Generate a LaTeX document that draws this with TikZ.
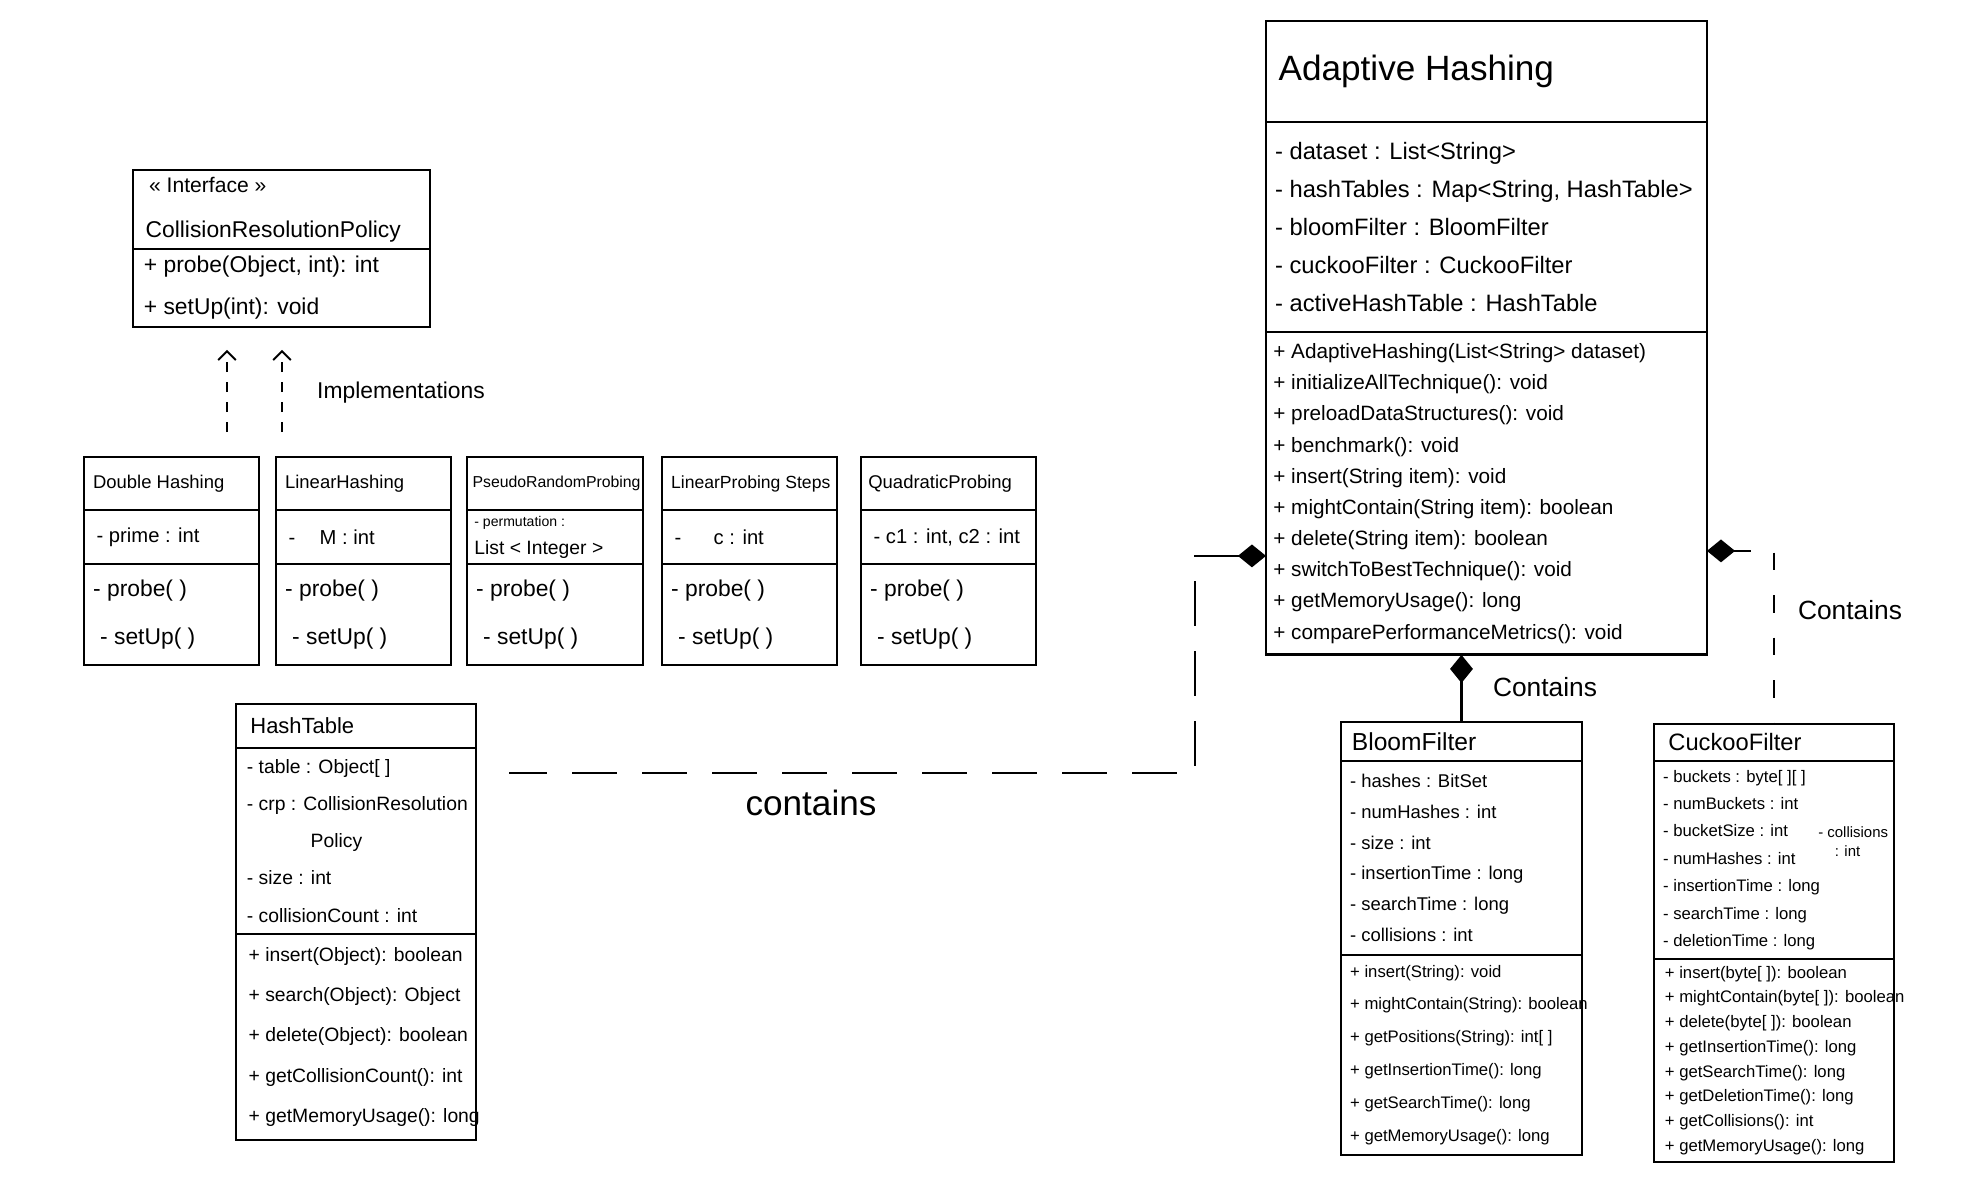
\documentclass[tikz,border=0pt]{standalone}
\usepackage{fontspec}
\setmainfont{Liberation Sans}
\usetikzlibrary{positioning}
\usetikzlibrary{arrows.meta}

\tikzset{
  compart/.style={draw, line width=1.6pt, outer sep=0pt, inner sep=0pt},
  rows/.style={align=left, inner sep=0pt},
  lbl/.style={inner sep=0pt},
  impl/.style={line width=1.1pt, dash pattern=on 0.2cm off 0.2cm, -{Straight Barb[length=5pt,width=10pt]}},
  compose/.style={line width=1.3pt, {Diamond[length=16pt,width=13pt]}-},
}

\begin{document}
\begin{tikzpicture}[x=0.02cm,y=-0.02cm]
\useasboundingbox (0,0) rectangle (1965,1191);

% interface
\node [compart, anchor=north west, minimum width=5.94cm, minimum height=1.58cm] (ifc) at (133,170) {};
\node [compart, below=0pt of ifc, minimum width=5.94cm, minimum height=1.56cm] (ifcops) {};
\node [rows, right=7pt of ifc.west, font=\fontsize{13}{25.5}\selectfont] (ifcname) {{\fontsize{12}{13}\selectfont\hspace*{2pt}« Interface »}\\CollisionResolutionPolicy};
\node [rows, right=6pt of ifcops.west, font=\fontsize{13}{23.8}\selectfont] (ifccalls) {+ probe(Object, int): int\\+ setUp(int): void};

% the five probing classes
\node [compart, anchor=north west, minimum width=3.5cm, minimum height=1.06cm] (dh) at (84,457) {};
\node [compart, below=0pt of dh, minimum width=3.5cm, minimum height=1.08cm] (dhattr) {};
\node [compart, below=0pt of dhattr, minimum width=3.5cm, minimum height=2.02cm] (dhops) {};
\node [rows, right=5pt of dh.west, font=\fontsize{10.5}{12}\selectfont] (dhname) {Double Hashing};
\node [rows, right=7pt of dhattr.west, font=\fontsize{11.5}{13}\selectfont] (dhfields) {- prime : int};
\node [rows, right=5pt of dhops.west, font=\fontsize{13}{27.2}\selectfont] (dhcalls) {- probe( )\\\hspace*{4pt}- setUp( )};

\node [compart, anchor=north west, minimum width=3.5cm, minimum height=1.06cm] (lh) at (276,457) {};
\node [compart, below=0pt of lh, minimum width=3.5cm, minimum height=1.08cm] (lhattr) {};
\node [compart, below=0pt of lhattr, minimum width=3.5cm, minimum height=2.02cm] (lhops) {};
\node [rows, right=5pt of lh.west, font=\fontsize{10.5}{12}\selectfont] (lhname) {LinearHashing};
\node [rows, right=7pt of lhattr.west, font=\fontsize{11.5}{13}\selectfont] (lhfields) {-\hspace*{1.2em}M : int};
\node [rows, right=5pt of lhops.west, font=\fontsize{13}{27.2}\selectfont] (lhcalls) {- probe( )\\\hspace*{4pt}- setUp( )};

\node [compart, anchor=north west, minimum width=3.52cm, minimum height=1.06cm] (prp) at (467,457) {};
\node [compart, below=0pt of prp, minimum width=3.52cm, minimum height=1.08cm] (prpattr) {};
\node [compart, below=0pt of prpattr, minimum width=3.52cm, minimum height=2.02cm] (prpops) {};
\node [rows, right=3pt of prp.west, font=\fontsize{9}{11}\selectfont] (prpname) {PseudoRandomProbing};
\node [rows, right=4pt of prpattr.west, font=\fontsize{11}{16}\selectfont] (prpfields) {{\fontsize{8}{9}\selectfont - permutation :}\\List < Integer >};
\node [rows, right=5pt of prpops.west, font=\fontsize{13}{27.2}\selectfont] (prpcalls) {- probe( )\\\hspace*{4pt}- setUp( )};

\node [compart, anchor=north west, minimum width=3.5cm, minimum height=1.06cm] (lps) at (662,457) {};
\node [compart, below=0pt of lps, minimum width=3.5cm, minimum height=1.08cm] (lpsattr) {};
\node [compart, below=0pt of lpsattr, minimum width=3.5cm, minimum height=2.02cm] (lpsops) {};
\node [rows, right=5pt of lps.west, font=\fontsize{10}{12}\selectfont] (lpsname) {LinearProbing Steps};
\node [rows, right=7pt of lpsattr.west, font=\fontsize{11.5}{13}\selectfont] (lpsfields) {-\hspace*{1.6em}c : int};
\node [rows, right=5pt of lpsops.west, font=\fontsize{13}{27.2}\selectfont] (lpscalls) {- probe( )\\\hspace*{4pt}- setUp( )};

\node [compart, anchor=north west, minimum width=3.5cm, minimum height=1.06cm] (qp) at (861,457) {};
\node [compart, below=0pt of qp, minimum width=3.5cm, minimum height=1.08cm] (qpattr) {};
\node [compart, below=0pt of qpattr, minimum width=3.5cm, minimum height=2.02cm] (qpops) {};
\node [rows, right=4pt of qp.west, font=\fontsize{10.5}{12}\selectfont] (qpname) {QuadraticProbing};
\node [rows, right=7pt of qpattr.west, font=\fontsize{11.5}{13}\selectfont] (qpfields) {- c1 : int, c2 : int};
\node [rows, right=5pt of qpops.west, font=\fontsize{13}{27.2}\selectfont] (qpcalls) {- probe( )\\\hspace*{4pt}- setUp( )};

% hash table
\node [compart, anchor=north west, minimum width=4.8cm, minimum height=0.88cm] (ht) at (236,704) {};
\node [compart, below=0pt of ht, minimum width=4.8cm, minimum height=3.72cm] (htattr) {};
\node [compart, below=0pt of htattr, minimum width=4.8cm, minimum height=4.12cm] (htops) {};
\node [rows, right=8pt of ht.west, font=\fontsize{12.5}{15}\selectfont] (htname) {HashTable};
\node [rows, right=6pt of htattr.west, font=\fontsize{11}{21.1}\selectfont] (htfields) {- table : Object[ ]\\- crp : CollisionResolution\\\hspace*{3.3em}Policy\\- size : int\\- collisionCount : int};
\node [rows, right=7pt of htops.west, font=\fontsize{11}{23}\selectfont] (htcalls) {+ insert(Object): boolean\\+ search(Object): Object\\+ delete(Object): boolean\\+ getCollisionCount(): int\\+ getMemoryUsage(): long};

% adaptive hashing
\node [compart, anchor=north west, minimum width=8.82cm, minimum height=2.02cm] (ah) at (1266,21) {};
\node [compart, below=0pt of ah, minimum width=8.82cm, minimum height=4.2cm] (ahattr) {};
\node [compart, below=0pt of ahattr, minimum width=8.82cm, minimum height=6.46cm] (ahops) {};
\node [rows, right=7pt of ah.west, font=\fontsize{20}{24}\selectfont] (ahname) {Adaptive Hashing};
\node [rows, right=5pt of ahattr.west, font=\fontsize{13.5}{21.7}\selectfont] (ahfields) {- dataset : List<String>\\- hashTables : Map<String, HashTable>\\- bloomFilter : BloomFilter\\- cuckooFilter : CuckooFilter\\- activeHashTable : HashTable};
\node [rows, right=4pt of ahops.west, font=\fontsize{11.8}{17.75}\selectfont] (ahcalls) {+ AdaptiveHashing(List<String> dataset)\\+ initializeAllTechnique(): void\\+ preloadDataStructures(): void\\+ benchmark(): void\\+ insert(String item): void\\+ mightContain(String item): boolean\\+ delete(String item): boolean\\+ switchToBestTechnique(): void\\+ getMemoryUsage(): long\\+ comparePerformanceMetrics(): void};

% bloom filter
\node [compart, anchor=north west, minimum width=4.82cm, minimum height=0.78cm] (bf) at (1341,722) {};
\node [compart, below=0pt of bf, minimum width=4.82cm, minimum height=3.88cm] (bfattr) {};
\node [compart, below=0pt of bfattr, minimum width=4.82cm, minimum height=4cm] (bfops) {};
\node [rows, right=6pt of bf.west, font=\fontsize{14}{16}\selectfont] (bfname) {BloomFilter};
\node [rows, right=5pt of bfattr.west, font=\fontsize{10.5}{17.5}\selectfont] (bffields) {- hashes : BitSet\\- numHashes : int\\- size : int\\- insertionTime : long\\- searchTime : long\\- collisions : int};
\node [rows, right=5pt of bfops.west, font=\fontsize{9.5}{18.7}\selectfont] (bfcalls) {+ insert(String): void\\+ mightContain(String): boolean\\+ getPositions(String): int[ ]\\+ getInsertionTime(): long\\+ getSearchTime(): long\\+ getMemoryUsage(): long};

% cuckoo filter
\node [compart, anchor=north west, minimum width=4.8cm, minimum height=0.74cm] (cf) at (1654,724) {};
\node [compart, below=0pt of cf, minimum width=4.8cm, minimum height=3.96cm] (cfattr) {};
\node [compart, below=0pt of cfattr, minimum width=4.8cm, minimum height=4.06cm] (cfops) {};
\node [rows, right=8pt of cf.west, font=\fontsize{13.5}{16}\selectfont] (cfname) {CuckooFilter};
\node [rows, right=5pt of cfattr.west, font=\fontsize{9.5}{15.6}\selectfont] (cffields) {- buckets : byte[ ][ ]\\- numBuckets : int\\- bucketSize : int\\- numHashes : int\\- insertionTime : long\\- searchTime : long\\- deletionTime : long};
\node [rows, anchor=west, font=\fontsize{8.5}{10.8}\selectfont] (cfcoll) at (1818,842) {- collisions\\\hspace*{1.1em}: int};
\node [rows, right=6pt of cfops.west, font=\fontsize{9.5}{14.1}\selectfont] (cfcalls) {+ insert(byte[ ]): boolean\\+ mightContain(byte[ ]): boolean\\+ delete(byte[ ]): boolean\\+ getInsertionTime(): long\\+ getSearchTime(): long\\+ getDeletionTime(): long\\+ getCollisions(): int\\+ getMemoryUsage(): long};

% implementations
\coordinate (implA) at (227,432);
\coordinate (implB) at (282,432);
\draw [impl, shorten >=0.46cm] (implA) -- (implA |- ifcops.south);
\draw [impl, shorten >=0.46cm] (implB) -- (implB |- ifcops.south);
\node [lbl, font=\fontsize{13}{15}\selectfont] (impllbl) at (401,393) {Implementations};

% compositions
\coordinate (bend) at (1195,773);
\draw [compose, dash pattern=on 0.9cm off 0.5cm, shorten >=0.66cm] ([yshift=-1.25cm]ahops.west) -| (bend) -- (bend -| htattr.east);
\node [lbl, font=\fontsize{20}{23}\selectfont] (contht) at (811,803) {contains};
\draw [compose] (ahops.south -| bf.north) -- (bf.north);
\node [lbl, font=\fontsize{15}{17}\selectfont] (contbf) at (1545,687) {Contains};
\draw [compose, dash pattern=on 0.35cm off 0.5cm] ([yshift=-1.15cm]ahops.east) -| (cf.north);
\node [lbl, font=\fontsize{15}{17}\selectfont] (contcf) at (1850,610) {Contains};

\end{tikzpicture}
\end{document}
